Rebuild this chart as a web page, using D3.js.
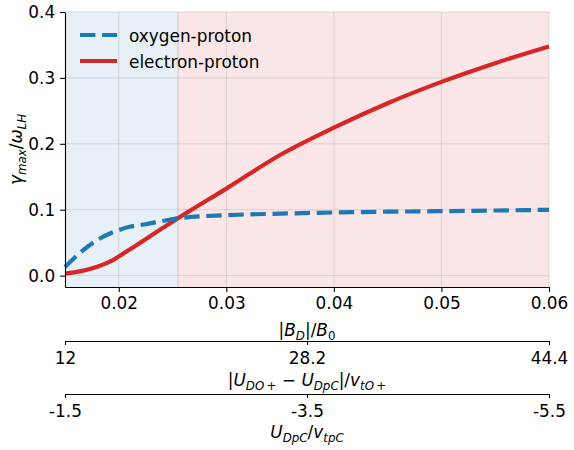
<!DOCTYPE html>
<html>
<head>
<meta charset="utf-8">
<script src="https://cdn.jsdelivr.net/npm/d3@7"></script>
<style>
  body { margin: 0; background: #fff; }
  svg text { font-family: "DejaVu Sans", sans-serif; }
</style>
</head>
<body>
<div id="chart"></div>
<script>
// |B_D|/B_0 sample points and growth rates
const bRatio = [0.015, 0.0165, 0.018, 0.0195, 0.021, 0.0225, 0.024, 0.0255,
  0.03, 0.035, 0.04, 0.045, 0.05, 0.055, 0.06];
const oxygenProton = [0.013, 0.036, 0.054, 0.066, 0.074, 0.078, 0.0826, 0.087,
  0.0917, 0.094, 0.0958, 0.097, 0.0978, 0.0988, 0.0998];
const electronProton = [0.003, 0.0068, 0.0135, 0.024, 0.0395, 0.055, 0.0714, 0.087,
  0.132, 0.183, 0.2245, 0.2616, 0.294, 0.3224, 0.3477];

// shaded regimes
const regions = [
  { from: 0.015, to: 0.0255, color: "#1f77b4" },
  { from: 0.0255, to: 0.06, color: "#d62728" },
];

const xTicks = [0.02, 0.03, 0.04, 0.05, 0.06];
const yTicks = [0.0, 0.1, 0.2, 0.3, 0.4];
const driftTicks = [12, 28.2, 44.4];
const protonTicks = [-1.5, -3.5, -5.5];

const W = 574, H = 450;
const FS = 16.9;
const plot = { left: 65, right: 549, top: 12, bottom: 287 };

const svg = d3.select("#chart").append("svg")
  .attr("width", W).attr("height", H)
  .style("display", "block");

const x = d3.scaleLinear().domain([0.015, 0.06]).range([plot.left, plot.right]);
const y = d3.scaleLinear().domain([-0.0173, 0.4]).range([plot.bottom, plot.top]);

// background regions
svg.append("g").selectAll("rect").data(regions).enter().append("rect")
  .attr("x", d => x(d.from))
  .attr("y", plot.top)
  .attr("width", d => x(d.to) - x(d.from))
  .attr("height", plot.bottom - plot.top)
  .attr("fill", d => d.color)
  .attr("fill-opacity", 0.115);

svg.append("line")
  .attr("x1", x(regions[1].from)).attr("x2", x(regions[1].from))
  .attr("y1", plot.top).attr("y2", plot.bottom)
  .attr("stroke", "#b0b0b0").attr("stroke-opacity", 0.6).attr("stroke-width", 1);

// grid
const grid = svg.append("g").attr("stroke", "#b0b0b0").attr("stroke-opacity", 0.4).attr("stroke-width", 1);
grid.selectAll("line.gx").data(xTicks).enter().append("line")
  .attr("x1", d => x(d)).attr("x2", d => x(d))
  .attr("y1", plot.top).attr("y2", plot.bottom);
grid.selectAll("line.gy").data(yTicks).enter().append("line")
  .attr("y1", d => y(d)).attr("y2", d => y(d))
  .attr("x1", plot.left).attr("x2", plot.right);

// curves
const line = d3.line().curve(d3.curveMonotoneX).x(d => x(d[0])).y(d => y(d[1]));
svg.append("path")
  .datum(bRatio.map((b, i) => [b, electronProton[i]]))
  .attr("d", line)
  .attr("fill", "none").attr("stroke", "#d62728").attr("stroke-width", 4.2)
  .attr("stroke-linejoin", "round");
svg.append("path")
  .datum(bRatio.map((b, i) => [b, oxygenProton[i]]))
  .attr("d", line)
  .attr("fill", "none").attr("stroke", "#1f77b4").attr("stroke-width", 4.2)
  .attr("stroke-dasharray", "15.4,6.7");

function styleAxis(g) {
  g.select(".domain").attr("stroke", "#000").attr("stroke-width", 1.1);
  g.selectAll(".tick line").attr("stroke", "#000").attr("stroke-width", 1.1);
  g.selectAll("text").attr("font-size", FS).attr("fill", "#000")
    .attr("font-family", "DejaVu Sans");
}

// main axes
svg.append("g")
  .attr("transform", `translate(0,${plot.bottom})`)
  .call(d3.axisBottom(x).tickValues(xTicks).tickFormat(d3.format(".2f"))
    .tickSize(4.9).tickPadding(5.1).tickSizeOuter(0))
  .call(styleAxis);

svg.append("g")
  .attr("transform", `translate(${plot.left},0)`)
  .call(d3.axisLeft(y).tickValues(yTicks).tickFormat(d3.format(".1f"))
    .tickSize(4.9).tickPadding(4.9).tickSizeOuter(0))
  .call(styleAxis);

// extra bottom axes
const xDrift = d3.scaleLinear().domain([12, 44.4]).range([plot.left, plot.right]);
const xProton = d3.scaleLinear().domain([-1.5, -5.5]).range([plot.left, plot.right]);

svg.append("g")
  .attr("transform", "translate(0,341)")
  .call(d3.axisBottom(xDrift).tickValues(driftTicks).tickFormat(d => String(d))
    .tickSize(4).tickPadding(6.8).tickSizeOuter(0))
  .call(styleAxis);

svg.append("g")
  .attr("transform", "translate(0,394)")
  .call(d3.axisBottom(xProton).tickValues(protonTicks).tickFormat(d => d.toFixed(1))
    .tickSize(4).tickPadding(6.8).tickSizeOuter(0))
  .call(styleAxis);

// math-style labels: list of [text, italic, sub]
function mathText(sel, parts) {
  let lvl = false;
  parts.forEach(([t, it, sub]) => {
    const ts = sel.append("tspan").text(t)
      .attr("font-style", it ? "italic" : "normal");
    if (sub) ts.attr("font-size", FS * 0.7);
    if (sub && !lvl) ts.attr("dy", FS * 0.22);
    if (!sub && lvl) ts.attr("dy", -FS * 0.22);
    lvl = !!sub;
  });
}

const cx = (plot.left + plot.right) / 2;

mathText(svg.append("text").attr("x", cx).attr("y", 336).attr("text-anchor", "middle")
  .attr("font-size", FS),
  [["|", 0, 0], ["B", 1, 0], ["D", 1, 1], ["|/", 0, 0], ["B", 1, 0], ["0", 0, 1]]);

mathText(svg.append("text").attr("x", cx).attr("y", 386).attr("text-anchor", "middle")
  .attr("font-size", FS),
  [["|", 0, 0], ["U", 1, 0], ["DO", 1, 1], ["\u2009+", 0, 1], [" \u2212 ", 0, 0], ["U", 1, 0],
   ["DpC", 1, 1], ["|/", 0, 0], ["v", 1, 0], ["tO", 1, 1], ["\u2009+", 0, 1]]);

mathText(svg.append("text").attr("x", cx).attr("y", 438).attr("text-anchor", "middle")
  .attr("font-size", FS),
  [["U", 1, 0], ["DpC", 1, 1], ["/", 0, 0], ["v", 1, 0], ["tpC", 1, 1]]);

mathText(svg.append("text")
  .attr("transform", `translate(22,${(plot.top + plot.bottom) / 2}) rotate(-90)`)
  .attr("text-anchor", "middle").attr("font-size", FS),
  [["\u03b3", 1, 0], ["max", 1, 1], ["/", 0, 0], ["\u03c9", 1, 0], ["LH", 1, 1]]);

// legend
const legendItems = [
  { label: "oxygen-proton", color: "#1f77b4", dash: "15.4,6.7", y: 35 },
  { label: "electron-proton", color: "#d62728", dash: null, y: 61 },
];
const lg = svg.append("g").selectAll("g").data(legendItems).enter().append("g");
lg.append("line")
  .attr("x1", 80).attr("x2", 117)
  .attr("y1", d => d.y).attr("y2", d => d.y)
  .attr("stroke", d => d.color).attr("stroke-width", 4.2)
  .attr("stroke-dasharray", d => d.dash);
lg.append("text")
  .attr("x", 129).attr("y", d => d.y + 6.5)
  .attr("font-size", FS).attr("fill", "#000")
  .text(d => d.label);
</script>
</body>
</html>
